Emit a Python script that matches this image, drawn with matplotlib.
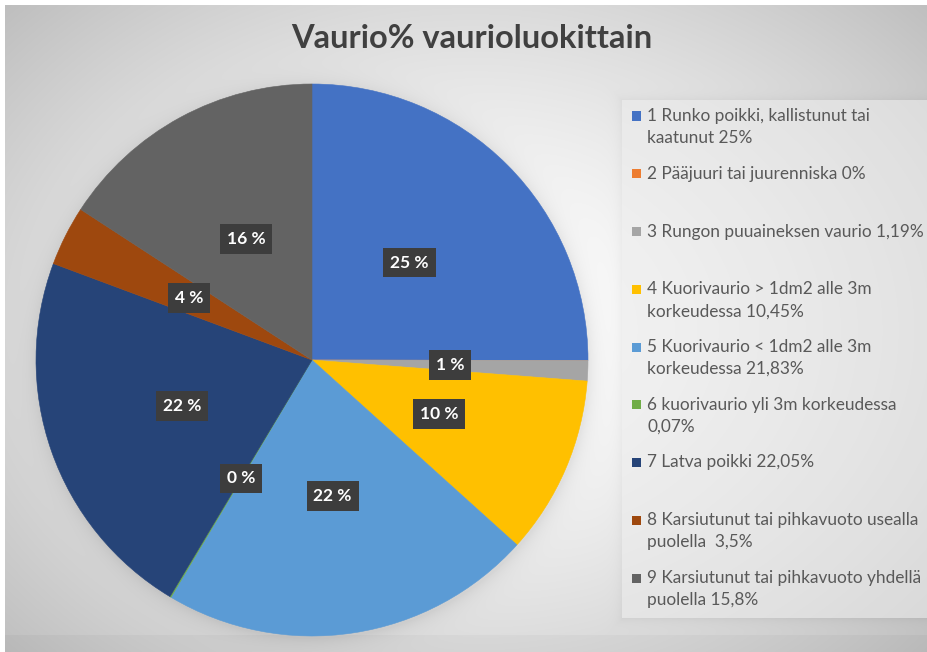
import numpy as np
import matplotlib
matplotlib.use("Agg")
import matplotlib.pyplot as plt
from matplotlib.patches import Rectangle

# ---- data ----
values = [25, 0, 1.19, 10.45, 21.83, 0.07, 22.05, 3.5, 15.8]
slice_labels = ["25 %", "", "1 %", "10 %", "22 %", "0 %", "22 %", "4 %", "16 %"]
legend_labels = [
    "1 Runko poikki, kallistunut tai\nkaatunut 25%",
    "2 Pääjuuri tai juurenniska 0%",
    "3 Rungon puuaineksen vaurio 1,19%",
    "4 Kuorivaurio > 1dm2 alle 3m\nkorkeudessa 10,45%",
    "5 Kuorivaurio < 1dm2 alle 3m\nkorkeudessa 21,83%",
    "6 kuorivaurio yli 3m korkeudessa\n0,07%",
    "7 Latva poikki 22,05%",
    "8 Karsiutunut tai pihkavuoto usealla\npuolella  3,5%",
    "9 Karsiutunut tai pihkavuoto yhdellä\npuolella 15,8%",
]
colors = ["#4472C4", "#ED7D31", "#A5A5A5", "#FFC000", "#5B9BD5",
          "#70AD47", "#264478", "#9E480E", "#636363"]
title = "Vaurio% vaurioluokittain"

W, H = 927, 652
fig = plt.figure(figsize=(W / 100, H / 100), dpi=100)
plt.rcParams['font.family'] = ['Lato', 'DejaVu Sans']

def fx(x):
    return x / W

def fy(y):
    return 1 - y / H

cx, cy, R = 312, 360, 276

# ---- background gradient with soft shadows ----
bg = fig.add_axes([0, 0, 1, 1], zorder=-10)
yy, xx = np.mgrid[0:H, 0:W].astype(float)
r = np.sqrt(((xx - 470) / 560.0) ** 2 + ((yy - 330) / 420.0) ** 2)
v = 1.0 - 0.21 * np.clip(r, 0, 1.3) ** 1.5
# pie shadow
d = np.sqrt((xx - cx - 1) ** 2 + (yy - cy - 2) ** 2) - R
v -= 0.07 * np.exp(-np.clip(d, 0, None) / 9.0)
# legend panel shadow
lx0, ly0, ly1 = 622, 100, 618
dl = np.maximum(np.maximum(lx0 - xx, yy - ly1), ly0 - yy)
v -= 0.04 * np.exp(-np.clip(dl, 0, None) / 5.0)
v[635:, :] -= 0.025
img = np.dstack([v, v, v])
img[:5, :, :] = 1.0
img[:, :5, :] = 1.0
bg.imshow(np.clip(img, 0, 1), extent=(0, W, H, 0), aspect='auto', interpolation='bilinear')
bg.set_xlim(0, W)
bg.set_ylim(H, 0)
bg.axis('off')

# legend panel
fig.add_artist(Rectangle((fx(lx0), fy(ly1)), fx(W - lx0), (ly1 - ly0) / H,
                         transform=fig.transFigure, facecolor='#f4f4f4',
                         edgecolor='none', alpha=0.55, zorder=-5))

# ---- pie ----
ax = fig.add_axes([fx(cx - R), fy(cy + R), 2 * R / W, 2 * R / H])
wedges, texts = ax.pie(values, labels=slice_labels, colors=colors, startangle=90,
                       counterclock=False, labeldistance=0.5, radius=1,
                       wedgeprops=dict(linewidth=0.4))
for w in wedges:
    w.set_edgecolor(w.get_facecolor())
for t in texts:
    t.set_ha('center')
    t.set_va('center')
    t.set_color('white')
    t.set_fontweight('bold')
    t.set_fontsize(12.5)
    if t.get_text():
        t.set_bbox(dict(boxstyle='square,pad=0.4', facecolor='#3d3d3d',
                        edgecolor='none'))
ax.set_xlim(-1, 1)
ax.set_ylim(-1, 1)
ax.set_aspect('equal')

# ---- title ----
fig.text(fx(472), fy(38), title, ha='center', va='center', fontsize=23.5,
         fontweight='bold', color='#404040')

# ---- legend ----
y0, step, lh = 116, 57.75, 22
for i, (lab, c) in enumerate(zip(legend_labels, colors)):
    yc = y0 + step * i
    fig.add_artist(Rectangle((fx(632), fy(yc + 4.5)), 9 / W, 9 / H,
                             transform=fig.transFigure, facecolor=c,
                             edgecolor='none'))
    for k, line in enumerate(lab.split("\n")):
        fig.text(fx(647), fy(yc + lh * k), line, ha='left', va='center',
                 fontsize=12.4, color='#595959')

fig.savefig("out.png", dpi=100)
